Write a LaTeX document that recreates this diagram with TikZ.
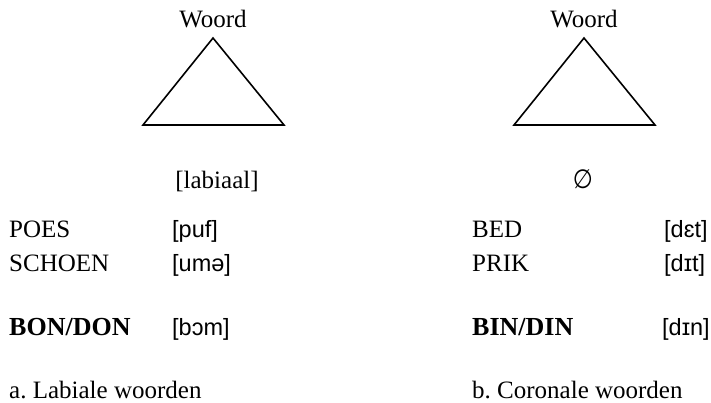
\documentclass[tikz,border=0pt]{standalone}
\usepackage{fontspec}
\setmainfont{Liberation Serif}
\newfontfamily\ipafont{Liberation Sans}
\newfontfamily\symfont{DejaVu Sans}
\begin{document}
\frenchspacing
\begin{tikzpicture}[x=1pt,y=-1pt,
  txt/.style={font=\fontsize{25}{28}\selectfont, inner sep=0pt},
  btxt/.style={font=\bfseries\fontsize{26}{28}\selectfont, inner sep=0pt},
  ipa/.style={font=\ipafont\fontsize{23.5}{26}\selectfont, inner sep=0pt},
  tri/.style={draw, line width=1.6pt, line join=miter}]
\useasboundingbox (0,0) rectangle (711,402);
% left tree
\node[txt, anchor=base] (wl) at (213,27) {Woord};
\coordinate (la) at (213,38);
\coordinate (lb) at (143,125);
\coordinate (lc) at (284,125);
\draw[tri] (la) -- (lb) -- (lc) -- cycle;
\node[txt, anchor=base] (lab) at (217,188) {[labiaal]};
% right tree
\node[txt, anchor=base] (wr) at (584,27) {Woord};
\coordinate (ra) at (584,38);
\coordinate (rb) at (514,125);
\coordinate (rc) at (655,125);
\draw[tri] (ra) -- (rb) -- (rc) -- cycle;
\node[font=\symfont\fontsize{23}{26}\selectfont, inner sep=0pt, yscale=1.15] (empty) at (583,179) {∅};
% left words
\node[txt, anchor=base west] (poes) at (9,237) {POES};
\node[ipa, anchor=base west] (puf) at (172,237) {[puf]};
\node[txt, anchor=base west] (schoen) at (9,271) {SCHOEN};
\node[ipa, anchor=base west] (ume) at (172,271) {[umə]};
\node[btxt, anchor=base west] (bon) at (9,335) {BON/DON};
\node[ipa, anchor=base west] (bom) at (172,335) {[bɔm]};
\node[txt, anchor=base west] (capa) at (9,398) {a. Labiale woorden};
% right words
\node[txt, anchor=base west] (bed) at (472,237) {BED};
\node[ipa, anchor=base west] (det) at (664,237) {[dɛt]};
\node[txt, anchor=base west] (prik) at (472,271) {PRIK};
\node[ipa, anchor=base west] (dit) at (664,271) {[dɪt]};
\node[btxt, anchor=base west] (bin) at (472,335) {BIN/DIN};
\node[ipa, anchor=base west] (din) at (662,335) {[dɪn]};
\node[txt, anchor=base west] (capb) at (472,398) {b. Coronale woorden};
\end{tikzpicture}
\end{document}
